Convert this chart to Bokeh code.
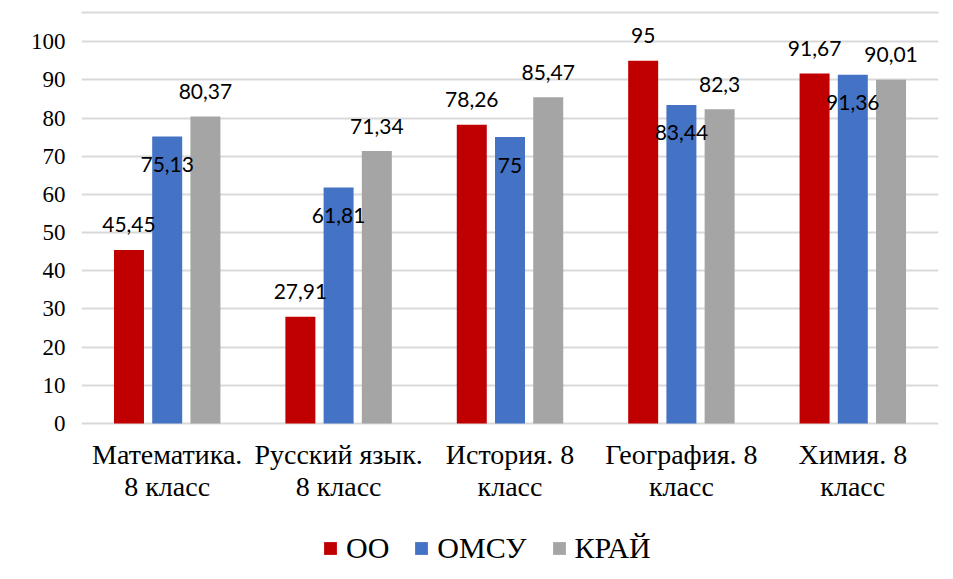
from bokeh.plotting import figure
from bokeh.models import ColumnDataSource, FactorRange, FixedTicker, Legend, LegendItem, BoxAnnotation, Range1d
from bokeh.transform import dodge
from bokeh.core.properties import value
from bokeh.embed import file_html
from bokeh.resources import INLINE

categories = ["Математика.\n8 класс", "Русский язык.\n8 класс", "История. 8\nкласс",
              "География. 8\nкласс", "Химия. 8\nкласс"]
series_names = ["ОО", "ОМСУ", "КРАЙ"]
oo = [45.45, 27.91, 78.26, 95, 91.67]
omsu = [75.13, 61.81, 75, 83.44, 91.36]
krai = [80.37, 71.34, 85.47, 82.3, 90.01]
y_ticks = list(range(0, 101, 10))

colors = ["#C00000", "#4472C4", "#A5A5A5"]
bar_offsets = [-0.223, 0.0, 0.223]
label_dy = [-25, 28, -25]  # screen px, negative = up

SERIF = "Liberation Serif"
GUIDE_SERIF = "Times"


def fmt(v):
    return f"{v:g}".replace(".", ",")


W, H = 953, 579
# frame spans the full height so that category labels and legend below 0 are not clipped
p = figure(x_range=FactorRange(*categories), y_range=Range1d(-40.9, 110),
           width=W, height=H, output_backend="svg", toolbar_location=None,
           min_border_left=81, min_border_right=15, min_border_top=3, min_border_bottom=0)
p.background_fill_color = "white"
p.border_fill_color = "white"
p.outline_line_color = None

items = []
sources = []
for name, vals, col, off in zip(series_names, [oo, omsu, krai], colors, bar_offsets):
    src = ColumnDataSource(dict(cat=categories, val=vals, lbl=[fmt(v) for v in vals]))
    sources.append(src)
    r = p.vbar(x=dodge("cat", off, range=p.x_range), top="val", bottom=0, width=0.175, source=src,
               fill_color=col, line_color=None)
    items.append(LegendItem(label=name, renderers=[r]))

# category labels under the 0 line
cat_src = ColumnDataSource(dict(cat=categories))
p.text(x="cat", y=0, text="cat", source=cat_src, text_align="center", text_baseline="middle",
       y_offset=47, text_font=value(SERIF), text_font_size="28px",
       text_line_height=1.03, text_color="#000000")

# data labels, drawn last
for src, off, dy in zip(sources, bar_offsets, label_dy):
    p.text(x=dodge("cat", off, range=p.x_range), y="val", text="lbl", source=src,
           text_align="center", text_baseline="middle", y_offset=dy,
           text_font=value("Lato"), text_font_size="21px", text_color="#000000",
           level="overlay")

# axes
p.xaxis.visible = False
p.yaxis.ticker = FixedTicker(ticks=y_ticks)
p.yaxis.axis_line_color = None
p.yaxis.major_tick_line_color = None
p.yaxis.major_tick_out = 0
p.yaxis.minor_tick_line_color = None
p.yaxis.major_label_text_font = GUIDE_SERIF
p.yaxis.major_label_text_font_size = "23px"
p.yaxis.major_label_text_color = "#000000"
p.yaxis.major_label_standoff = 16

p.xgrid.grid_line_color = None
p.ygrid.ticker = FixedTicker(ticks=y_ticks)
p.ygrid.grid_line_color = "#d9d9d9"
p.ygrid.grid_line_width = 2

legend = Legend(items=items, location=(241, 14), orientation="horizontal",
                glyph_width=16, glyph_height=16, label_standoff=8, spacing=24,
                padding=0, margin=0, border_line_color=None, background_fill_alpha=0,
                label_text_font=GUIDE_SERIF, label_text_font_size="30px",
                label_text_color="#000000")
p.add_layout(legend)

# chart-area border (light gray), left and top edges
p.add_layout(BoxAnnotation(left=6, right=8, top=11, bottom=H,
                           left_units="canvas", right_units="canvas",
                           top_units="canvas", bottom_units="canvas",
                           fill_color="#d9d9d9", fill_alpha=1, line_color=None))
p.add_layout(BoxAnnotation(left=6, right=W, top=11, bottom=13,
                           left_units="canvas", right_units="canvas",
                           top_units="canvas", bottom_units="canvas",
                           fill_color="#d9d9d9", fill_alpha=1, line_color=None))

open("out.html", "w").write(file_html(p, INLINE))
